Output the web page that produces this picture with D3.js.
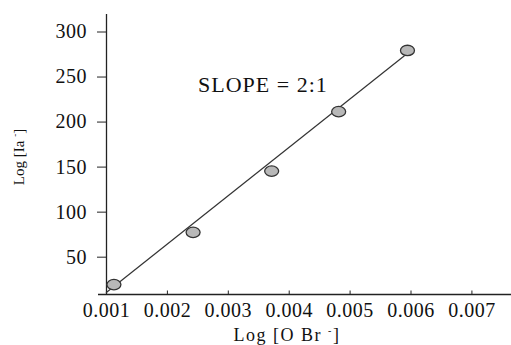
<!DOCTYPE html>
<html>
<head>
<meta charset="utf-8">
<script src="https://cdn.jsdelivr.net/npm/d3@7"></script>
<style>
  body { margin: 0; background: #fff; }
  text { font-family: "Liberation Serif", "DejaVu Serif", serif; fill: #111; }
</style>
</head>
<body>
<div id="chart"></div>
<script>
// data
var concOBr = [0.00113, 0.00243, 0.00372, 0.00482, 0.00595];
var logIa = [19, 77, 145, 211, 279];
// drawn fit line, end points
var fitX = [0.001, 0.0059];
var fitY = [10, 273];
var xTicks = [0.001, 0.002, 0.003, 0.004, 0.005, 0.006, 0.007];
var yTicks = [50, 100, 150, 200, 250, 300];

var width = 511, height = 345;

var svg = d3.select("#chart")
  .append("svg")
  .attr("width", width)
  .attr("height", height);

// scales
var x = d3.scaleLinear()
  .domain([0.001, 0.00765])
  .range([106, 511]);

var y = d3.scaleLinear()
  .domain([8, 320])
  .range([294.5, 13.5]);

// x axis (small ticks pointing up)
var xAxis = svg.append("g")
  .attr("transform", "translate(0," + y(8) + ")")
  .call(d3.axisBottom(x).tickValues(xTicks).tickSizeInner(-4).tickSizeOuter(0)
    .tickFormat(d3.format(".3f")));
xAxis.select(".domain").attr("stroke", "#222").attr("stroke-width", 1.3)
  .attr("d", "M98,0H511");
xAxis.selectAll(".tick line").attr("stroke", "#222");
xAxis.selectAll("text")
  .attr("y", 22)
  .attr("dy", 0)
  .style("font-size", "20px")
  .style("letter-spacing", "0.5px")
  .style("font-family", "Liberation Serif");

// y axis
var yAxis = svg.append("g")
  .attr("transform", "translate(" + x(0.001) + ",0)")
  .call(d3.axisLeft(y).tickValues(yTicks).tickSize(9).tickPadding(10).tickSizeOuter(0));
yAxis.select(".domain").attr("stroke", "#222").attr("stroke-width", 1.3);
yAxis.selectAll(".tick line").attr("stroke", "#222");
yAxis.selectAll("text")
  .style("font-size", "20px")
  .style("letter-spacing", "0.5px")
  .style("font-family", "Liberation Serif");

// fitted line
svg.append("line")
  .attr("x1", x(fitX[0]))
  .attr("y1", y(fitY[0]))
  .attr("x2", x(fitX[1]))
  .attr("y2", y(fitY[1]))
  .attr("stroke", "#333")
  .attr("stroke-width", 1.2);

// points
svg.selectAll(".pt")
  .data(concOBr)
  .enter()
  .append("ellipse")
  .attr("class", "pt")
  .attr("cx", function (d) { return x(d); })
  .attr("cy", function (d, i) { return y(logIa[i]); })
  .attr("rx", 7)
  .attr("ry", 5.2)
  .attr("fill", "#b8b8b8")
  .attr("stroke", "#333")
  .attr("stroke-width", 1.3);

// slope annotation
svg.append("text")
  .attr("x", 198)
  .attr("y", 92)
  .style("font-size", "22px")
  .style("letter-spacing", "1px")
  .text("SLOPE = 2:1");

// x axis label
var xl = svg.append("text")
  .attr("x", 287)
  .attr("y", 341)
  .attr("text-anchor", "middle")
  .style("font-size", "18px")
  .style("letter-spacing", "1.5px");
xl.append("tspan").text("Log [O Br ");
xl.append("tspan").attr("dy", -7).style("font-size", "10px").text("-");
xl.append("tspan").attr("dy", 7).text("]");

// y axis label
var yl = svg.append("text")
  .attr("transform", "translate(24,157) rotate(-90)")
  .attr("text-anchor", "middle")
  .style("font-size", "15px");
yl.append("tspan").text("Log [Ia ");
yl.append("tspan").attr("dy", -6).style("font-size", "9px").text("-");
yl.append("tspan").attr("dy", 6).text("]");
</script>
</body>
</html>
